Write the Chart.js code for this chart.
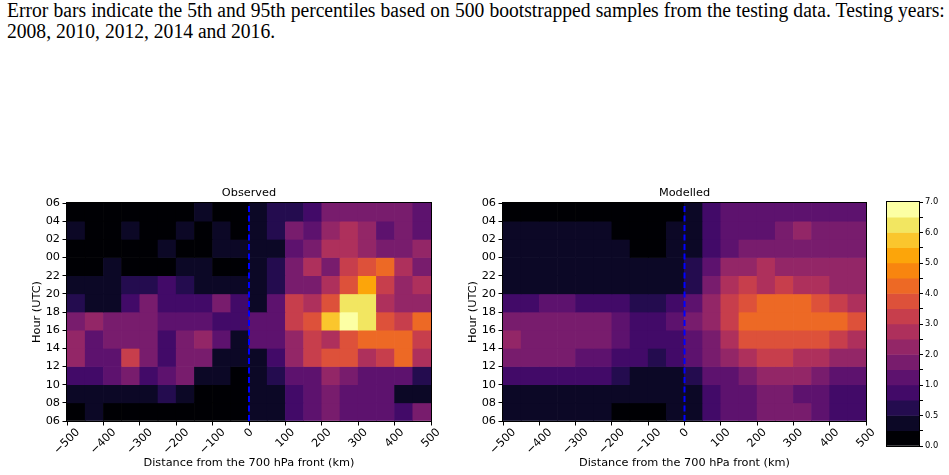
<!DOCTYPE html>
<html><head><meta charset="utf-8">
<script src="https://cdn.jsdelivr.net/npm/chart.js@4.4.1/dist/chart.umd.min.js"></script>
<style>
html,body{margin:0;padding:0;background:#fff;}
body{width:949px;height:475px;position:relative;overflow:hidden;}
#caption{position:absolute;left:7px;top:0;width:982px;font-family:"Liberation Serif","Times New Roman",serif;font-size:20.5px;line-height:20.7px;text-align:justify;color:#000;transform:scaleX(0.955);transform-origin:0 0;}
canvas{position:absolute;}
</style></head><body>
<div id="caption">Error bars indicate the 5th and 95th percentiles based on 500 bootstrapped samples from the testing data. Testing years: 2008, 2010, 2012, 2014 and 2016.</div>
<canvas id="obs" width="450" height="295" style="left:0;top:180px"></canvas>
<canvas id="mod" width="460" height="295" style="left:436px;top:180px"></canvas>
<canvas id="cbar" width="79" height="265" style="left:870px;top:190px"></canvas>
<script>
// ---- data ----
const distanceEdges = [-500,-450,-400,-350,-300,-250,-200,-150,-100,-50,0,50,100,150,200,250,300,350,400,450,500];
const distanceTicks = [-500,-400,-300,-200,-100,0,100,200,300,400,500];
const hourTicks = ['06','08','10','12','14','16','18','20','22','00','02','04','06'];
const levels = [0,0.25,0.5,0.75,1,1.5,2,2.5,3,3.5,4,4.5,5,5.5,6,6.5,7];
const levelColors = ["#000004","#0c0826","#240c4f","#420a68","#5d126e","#781c6d","#932667","#ae305c","#c73e4c","#dd513a","#ed6925","#f8850f","#fca50a","#fac62d","#f2e661","#fcffa4"];

// rows from 06 UTC (bottom) to 04 UTC (top); columns -500..500 km in 50 km bins
const observed = [
  [0.1,0.4,0.1,0.1,0.1,0.1,0.1,0.1,0.1,0.1, 0.4,0.4,0.9,1.2,1.7,1.2,1.2,1.2,0.9,1.7], // 06
  [0.4,0.4,0.4,0.4,0.4,0.6,0.4,0.1,0.1,0.1, 0.4,0.4,0.9,1.2,1.7,1.2,1.2,1.2,0.4,0.4], // 08
  [0.9,0.9,1.2,1.7,0.9,1.2,1.7,0.4,0.4,0.1, 0.4,0.6,1.2,1.2,2.2,1.7,1.2,1.2,1.2,0.6], // 10
  [2.2,1.2,1.2,3.2,1.7,0.9,1.7,1.7,0.4,0.4, 0.4,0.9,2.2,3.2,3.7,3.7,2.7,3.2,4.2,2.7], // 12
  [2.2,1.2,1.7,1.7,1.7,0.9,1.7,2.2,1.2,0.4, 1.2,1.2,2.2,3.2,2.7,3.7,4.2,4.2,4.2,3.2], // 14
  [1.7,2.2,1.7,1.7,1.7,1.2,1.2,1.2,0.9,0.9, 1.2,1.2,3.2,3.7,5.7,6.8,6.2,3.7,3.2,4.2], // 16
  [0.6,0.4,0.4,0.9,1.7,0.9,0.9,0.9,1.7,0.9, 0.4,1.2,3.2,2.7,3.7,6.2,6.2,2.7,2.2,2.2], // 18
  [0.4,0.4,0.4,0.6,0.6,0.9,0.6,0.4,0.4,0.4, 0.4,0.6,1.7,1.7,2.7,3.7,5.2,3.2,2.2,2.7], // 20
  [0.1,0.1,0.4,0.1,0.1,0.1,0.4,0.4,0.1,0.1, 0.4,0.6,1.7,2.7,1.7,3.2,3.7,4.2,2.7,1.7], // 22
  [0.1,0.1,0.1,0.1,0.1,0.4,0.1,0.1,0.4,0.4, 0.4,0.4,1.2,1.7,2.7,2.7,2.2,1.7,1.7,2.2], // 00
  [0.4,0.1,0.1,0.4,0.1,0.1,0.4,0.1,0.4,0.1, 0.4,0.6,1.7,1.2,2.2,2.7,2.2,1.2,1.7,1.2], // 02
  [0.1,0.1,0.1,0.1,0.1,0.1,0.1,0.4,0.1,0.1, 0.4,0.6,0.6,0.9,1.7,1.7,1.7,1.7,1.7,1.2]  // 04
];
const modelled = [
  [0.4,0.4,0.4,0.4,0.4,0.4,0.1,0.1,0.1,0.4, 0.4,0.9,1.2,1.2,1.7,1.7,1.7,1.2,0.9,0.9], // 06
  [0.4,0.4,0.4,0.4,0.4,0.4,0.4,0.4,0.4,0.4, 0.4,0.9,1.2,1.2,1.7,1.7,1.2,1.2,0.9,0.9], // 08
  [0.9,0.9,0.9,0.9,0.9,0.9,0.6,0.4,0.4,0.4, 0.6,1.2,1.2,1.7,2.2,2.2,2.2,1.7,1.2,1.2], // 10
  [1.7,1.7,1.7,1.7,1.2,1.2,0.9,0.9,0.6,0.9, 1.2,1.7,2.2,2.7,3.2,3.2,2.7,2.7,2.2,2.2], // 12
  [2.2,1.7,1.7,1.7,1.7,1.7,1.2,0.9,0.9,0.9, 1.2,1.7,2.7,3.7,3.7,3.7,3.7,3.7,3.2,2.7], // 14
  [1.7,1.7,1.7,1.7,1.7,1.7,1.2,0.9,0.9,1.2, 1.7,2.2,3.2,4.2,4.2,4.2,4.2,4.2,4.2,3.7], // 16
  [0.9,0.9,1.2,1.2,0.9,0.9,0.9,0.6,0.6,0.9, 1.2,2.2,3.2,3.7,4.2,4.2,4.2,3.7,3.2,2.7], // 18
  [0.4,0.4,0.4,0.4,0.4,0.4,0.4,0.4,0.4,0.4, 0.6,1.7,2.7,3.2,2.7,3.2,2.7,2.7,2.2,2.2], // 20
  [0.4,0.4,0.4,0.4,0.4,0.4,0.4,0.4,0.4,0.4, 0.6,1.2,2.2,2.2,2.7,2.2,2.2,2.2,2.2,2.2], // 22
  [0.4,0.4,0.4,0.4,0.4,0.4,0.4,0.1,0.1,0.4, 0.4,0.9,1.2,1.7,1.7,1.7,1.7,1.7,1.7,1.7], // 00
  [0.4,0.4,0.4,0.4,0.4,0.4,0.1,0.1,0.1,0.4, 0.4,0.9,1.2,1.2,1.2,1.7,2.2,1.7,1.7,1.7], // 02
  [0.1,0.1,0.1,0.1,0.1,0.1,0.1,0.1,0.1,0.1, 0.4,0.9,1.2,1.2,1.2,1.2,1.2,1.2,1.2,1.2]  // 04
];
const frontPosition = 0;

// ---- helpers ----
Chart.defaults.font.family = "'DejaVu Sans', sans-serif";
Chart.defaults.color = '#000';
const FS = 11.3;

function colorOf(v) {
  for (let i = 0; i < levelColors.length; i++) {
    if (v < levels[i + 1]) return levelColors[i];
  }
  return levelColors[levelColors.length - 1];
}
function fmtTick(v) { return v < 0 ? '\u2212' + Math.abs(v) : String(v); }

const framePlugin = {
  id: 'heatFrame',
  afterDraw(chart, args, opts) {
    const {ctx, chartArea: a} = chart;
    ctx.save();
    ctx.strokeStyle = '#000';
    ctx.lineWidth = 1;
    ctx.strokeRect(Math.round(a.left) - 0.5, Math.round(a.top) - 0.5,
                   Math.round(a.right - a.left) + 1, Math.round(a.bottom - a.top) + 1);
    ctx.fillStyle = '#000';
    if (opts.title) {
      ctx.font = FS + "px 'DejaVu Sans'";
      ctx.textAlign = 'center';
      ctx.textBaseline = 'middle';
      ctx.fillText(opts.title, (a.left + a.right) / 2, a.top - 10);
    }
    if (opts.xticks) {
      const xs = chart.scales.x;
      ctx.font = FS + "px 'DejaVu Sans'";
      ctx.textAlign = 'center';
      ctx.textBaseline = 'middle';
      const top = a.bottom + 6.5;
      distanceTicks.forEach(t => {
        const label = fmtTick(t);
        const w = ctx.measureText(label).width;
        const cx = xs.getPixelForValue(t);
        const cy = top + (w + 8.5) * Math.SQRT1_2 / 2;
        ctx.save();
        ctx.translate(cx, cy);
        ctx.rotate(-Math.PI / 4);
        ctx.fillText(label, 0, 0);
        ctx.restore();
      });
    }
    ctx.restore();
  }
};

function heatmap(id, title, values, padRight) {
  const cells = [];
  values.forEach((row, r) => row.forEach((v, c) => {
    cells.push({x: (distanceEdges[c] + distanceEdges[c + 1]) / 2, y: [2 * r, 2 * r + 2], v});
  }));
  const gridOpts = {display: true, drawOnChartArea: false, drawTicks: true, tickLength: 4.5, color: '#000', lineWidth: 1, offset: false};
  return new Chart(document.getElementById(id), {
    type: 'bar',
    data: {datasets: [
      {type: 'line', data: [{x: frontPosition, y: 0}, {x: frontPosition, y: 24}], borderColor: '#0000ff', borderWidth: 2,
       borderDash: [6, 3.5], pointRadius: 0, order: 0},
      {type: 'bar', data: cells, backgroundColor: cells.map(c => colorOf(c.v)), barPercentage: 1, categoryPercentage: 1,
       borderWidth: 0, order: 1}
    ]},
    options: {
      responsive: false, animation: false, devicePixelRatio: 1,
      layout: {padding: {left: 26, top: 23, right: padRight, bottom: 0}},
      plugins: {legend: {display: false}, tooltip: {enabled: false}, heatFrame: {title, xticks: true}},
      scales: {
        x: {type: 'linear', min: -500, max: 500, offset: false, grid: gridOpts, border: {display: false},
            ticks: {display: false, stepSize: 100},
            afterFit: s => { s.height = 54; },
            title: {display: true, text: 'Distance from the 700 hPa front (km)', font: {size: FS}, color: '#000', padding: {top: 0, bottom: 5}}},
        y: {type: 'linear', min: 0, max: 24, grid: gridOpts, border: {display: false},
            ticks: {stepSize: 2, autoSkip: false, padding: 2.5, color: '#000', font: {size: FS}, callback: v => hourTicks[Math.round(v / 2)]},
            afterFit: s => { s.width = 41; },
            title: {display: true, text: 'Hour (UTC)', font: {size: FS}, color: '#000', padding: {top: 4, bottom: 0}}}
      }
    },
    plugins: [framePlugin]
  });
}

heatmap('obs', 'Observed', observed, 19);
heatmap('mod', 'Modelled', modelled, 30);

// colorbar
const cbCells = levelColors.map((c, i) => ({x: 'c', y: [i, i + 1]}));
new Chart(document.getElementById('cbar'), {
  type: 'bar',
  data: {labels: ['c'], datasets: [{data: cbCells, backgroundColor: levelColors, barPercentage: 1, categoryPercentage: 1, borderWidth: 0}]},
  options: {
    responsive: false, animation: false, devicePixelRatio: 1,
    layout: {padding: {left: 17, top: 12, right: 0, bottom: 9}},
    plugins: {legend: {display: false}, tooltip: {enabled: false}, heatFrame: {}},
    scales: {
      x: {display: false},
      y: {type: 'linear', position: 'right', min: 0, max: 16,
          grid: {display: true, drawOnChartArea: false, drawTicks: true, tickLength: 4, color: '#000', lineWidth: 1},
          border: {display: false},
          ticks: {stepSize: 1, autoSkip: false, padding: 2, color: '#000', font: {size: 8.3},
                  callback: v => (v % 2 === 0 ? levels[v].toFixed(1) : '')},
          afterFit: s => { s.width = 30; }}
    }
  },
  plugins: [framePlugin]
});
</script>
</body></html>
